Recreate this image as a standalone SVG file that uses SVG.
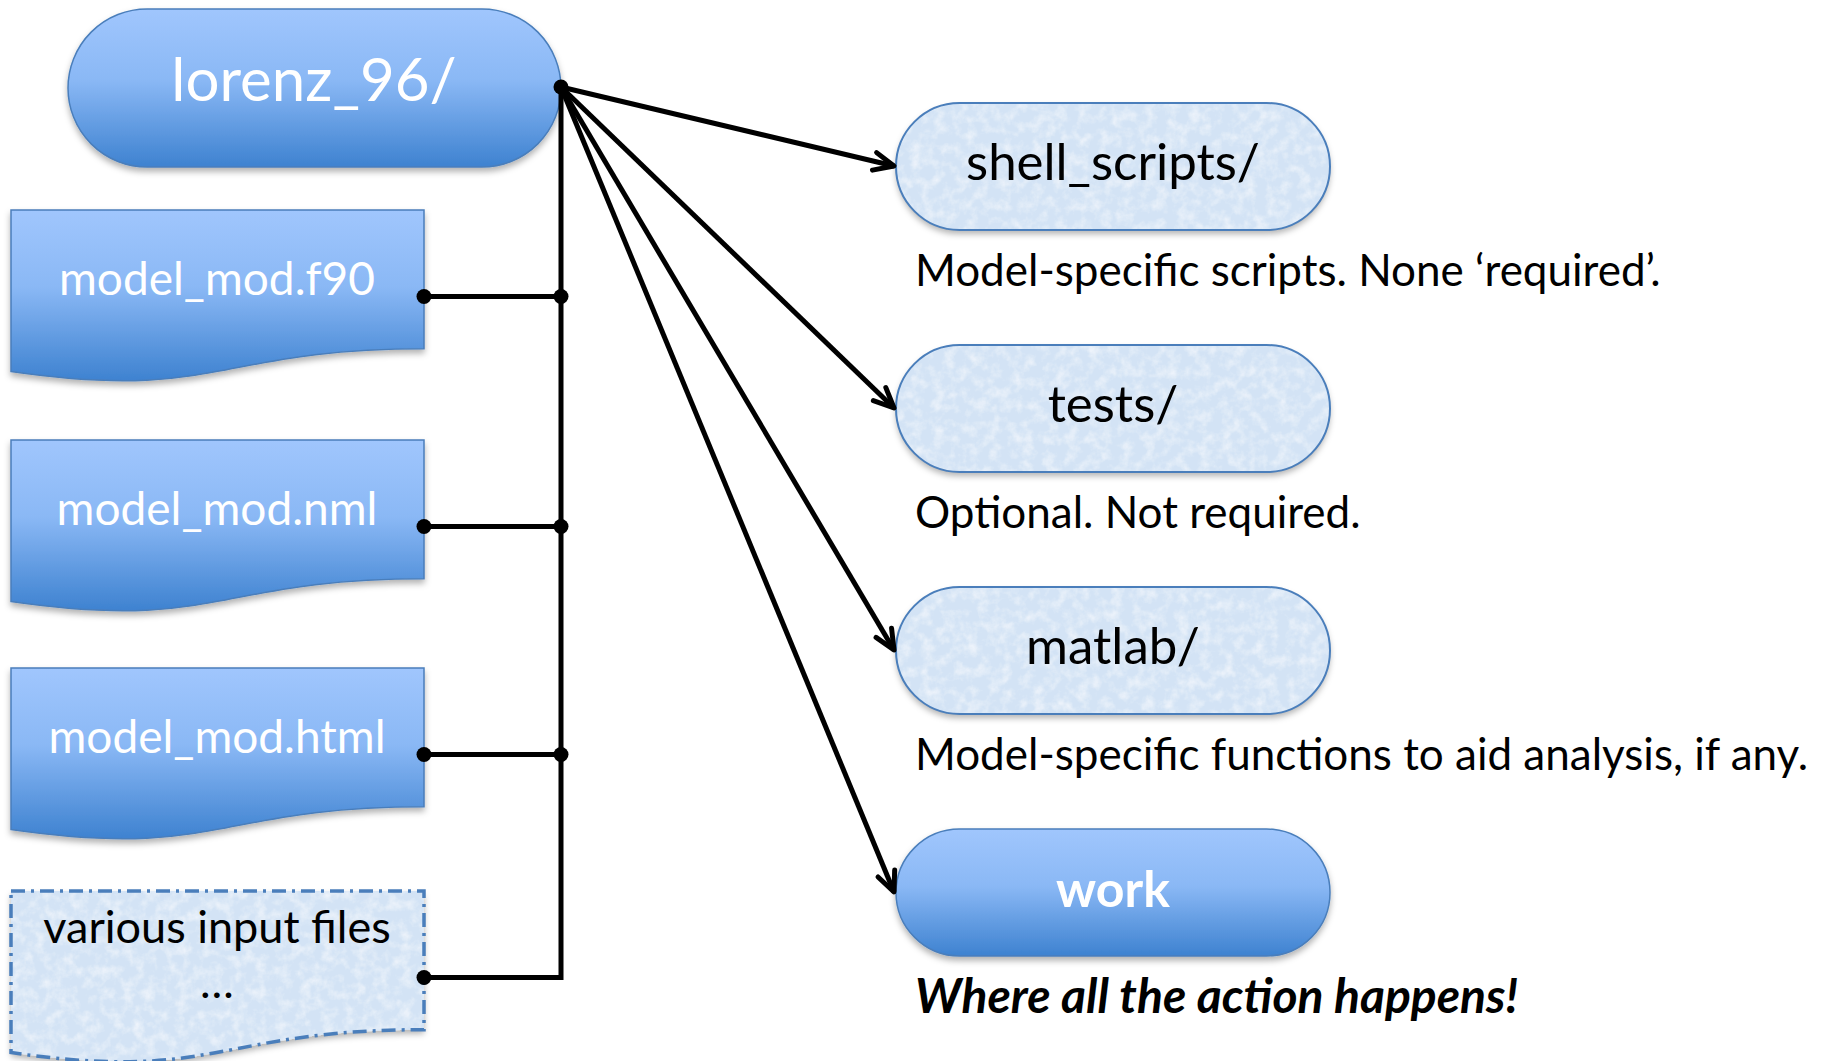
<svg xmlns="http://www.w3.org/2000/svg" width="1831" height="1061" viewBox="0 0 1831 1061">
<defs>
  <linearGradient id="blue" x1="0" y1="0" x2="0" y2="1">
    <stop offset="0" stop-color="#a0c6fd"/>
    <stop offset="0.45" stop-color="#8ab8f5"/>
    <stop offset="1" stop-color="#3e82d0"/>
  </linearGradient>
  <filter id="shadow" x="-5%" y="-10%" width="110%" height="130%">
    <feDropShadow dx="0" dy="4" stdDeviation="3" flood-color="#000" flood-opacity="0.3"/>
  </filter>
  <filter id="tex" x="-5%" y="-10%" width="110%" height="130%">
    <feTurbulence type="fractalNoise" baseFrequency="0.09" numOctaves="4" seed="7" result="n"/>
    <feColorMatrix in="n" type="matrix" values="0 0 0 0 1  0 0 0 0 1  0 0 0 0 1  0 0 0 1.1 -0.45" result="w"/>
    <feComposite in="w" in2="SourceAlpha" operator="in" result="wm"/>
    <feGaussianBlur in="SourceAlpha" stdDeviation="3" result="b"/>
    <feOffset in="b" dy="4" result="o"/>
    <feFlood flood-color="#000" flood-opacity="0.3"/>
    <feComposite in2="o" operator="in" result="sh"/>
    <feMerge>
      <feMergeNode in="sh"/>
      <feMergeNode in="SourceGraphic"/>
      <feMergeNode in="wm"/>
    </feMerge>
  </filter>
  <marker id="arr" viewBox="-26 -14 30 28" refX="0" refY="0" markerWidth="30" markerHeight="28" markerUnits="userSpaceOnUse" orient="auto">
    <path d="M-20,-9 L0,0 L-20,9" fill="none" stroke="#000" stroke-width="5" stroke-linecap="round" stroke-linejoin="round"/>
  </marker>
  <style>
    .dark { fill: url(#blue); stroke: #4a7ebb; stroke-width: 1.5; filter: url(#shadow); }
    .lightfill { fill: #d3e3f5; stroke: none; filter: url(#tex); }
    .outline { fill: none; stroke: #4a7ebb; stroke-width: 2; }
    .dashed { fill: none; stroke: #4a7ebb; stroke-width: 3.5; stroke-dasharray: 14 6 3 6; }
    .t { font-family: "Lato", "Liberation Sans", sans-serif; }
    .wt { fill: #ffffff; text-anchor: middle; }
    .bt { fill: #000000; text-anchor: middle; }
    .cap { fill: #000000; font-size: 44px; }
    .emph { font-size: 48px; font-weight: bold; font-style: italic; }
    .line { stroke: #000; stroke-width: 5; fill: none; }
    .dot { fill: #000; }
  </style>
</defs>
<rect width="1831" height="1061" fill="#ffffff"/>

<g id="lorenz_96">
  <rect class="dark" x="68" y="9" width="493" height="158" rx="79" ry="79"/>
  <text class="t wt" x="314" y="101" font-size="60">lorenz_96/</text>
</g>

<g id="model_mod_f90">
  <path class="dark" d="M11,210 H424 V348.7 C217.5,348.7 217.5,401.6 11,371.6 Z"/>
  <text class="t wt" x="217" y="295" font-size="46">model_mod.f90</text>
</g>

<g id="model_mod_nml">
  <path class="dark" d="M11,440 H424 V578.7 C217.5,578.7 217.5,631.6 11,601.6 Z"/>
  <text class="t wt" x="217" y="525" font-size="46">model_mod.nml</text>
</g>

<g id="model_mod_html">
  <path class="dark" d="M11,668 H424 V806.7 C217.5,806.7 217.5,859.6 11,829.6 Z"/>
  <text class="t wt" x="217" y="753" font-size="46">model_mod.html</text>
</g>

<g id="various_input_files">
  <path class="lightfill" d="M11,891 H424 V1029.7 C217.5,1029.7 217.5,1082.6 11,1052.6 Z"/>
  <path class="dashed" d="M11,891 H424 V1029.7 C217.5,1029.7 217.5,1082.6 11,1052.6 Z"/>
  <text class="t bt" x="217" y="943" font-size="45">various input files</text>
  <text class="t bt" x="217" y="998" font-size="45">…</text>
</g>

<g id="shell_scripts">
  <rect class="lightfill" x="896" y="103" width="434" height="127" rx="63.5" ry="63.5"/>
  <rect class="outline" x="896" y="103" width="434" height="127" rx="63.5" ry="63.5"/>
  <text class="t bt" x="1113" y="180" font-size="51">shell_scripts/</text>
  <text class="t cap" x="915" y="286">Model-specific scripts. None ‘required’.</text>
</g>

<g id="tests">
  <rect class="lightfill" x="896" y="345" width="434" height="127" rx="63.5" ry="63.5"/>
  <rect class="outline" x="896" y="345" width="434" height="127" rx="63.5" ry="63.5"/>
  <text class="t bt" x="1113" y="422" font-size="51">tests/</text>
  <text class="t cap" x="915" y="528">Optional. Not required.</text>
</g>

<g id="matlab">
  <rect class="lightfill" x="896" y="587" width="434" height="127" rx="63.5" ry="63.5"/>
  <rect class="outline" x="896" y="587" width="434" height="127" rx="63.5" ry="63.5"/>
  <text class="t bt" x="1113" y="664" font-size="51">matlab/</text>
  <text class="t cap" x="915" y="770">Model-specific functions to aid analysis, if any.</text>
</g>

<g id="work">
  <rect class="dark" x="896" y="829" width="434" height="127" rx="63.5" ry="63.5"/>
  <text class="t wt" x="1113" y="907" font-size="50" font-weight="bold">work</text>
  <text class="t cap emph" x="915" y="1013">Where all the action happens!</text>
</g>

<g id="connectors">
  <polyline class="line" points="561,87 561,977.5 424,977.5"/>
  <line class="line" x1="424" y1="296.5" x2="561" y2="296.5"/>
  <line class="line" x1="424" y1="526.5" x2="561" y2="526.5"/>
  <line class="line" x1="424" y1="754.5" x2="561" y2="754.5"/>
  <line class="line" x1="561" y1="87" x2="894" y2="166" marker-end="url(#arr)"/>
  <line class="line" x1="561" y1="87" x2="894" y2="408" marker-end="url(#arr)"/>
  <line class="line" x1="561" y1="87" x2="894" y2="650" marker-end="url(#arr)"/>
  <line class="line" x1="561" y1="87" x2="894" y2="892" marker-end="url(#arr)"/>
  <circle class="dot" cx="561" cy="87" r="7.5"/>
  <circle class="dot" cx="424" cy="296.5" r="7.5"/>
  <circle class="dot" cx="561" cy="296.5" r="7.5"/>
  <circle class="dot" cx="424" cy="526.5" r="7.5"/>
  <circle class="dot" cx="561" cy="526.5" r="7.5"/>
  <circle class="dot" cx="424" cy="754.5" r="7.5"/>
  <circle class="dot" cx="561" cy="754.5" r="7.5"/>
  <circle class="dot" cx="424" cy="977.5" r="7.5"/>
</g>
</svg>
